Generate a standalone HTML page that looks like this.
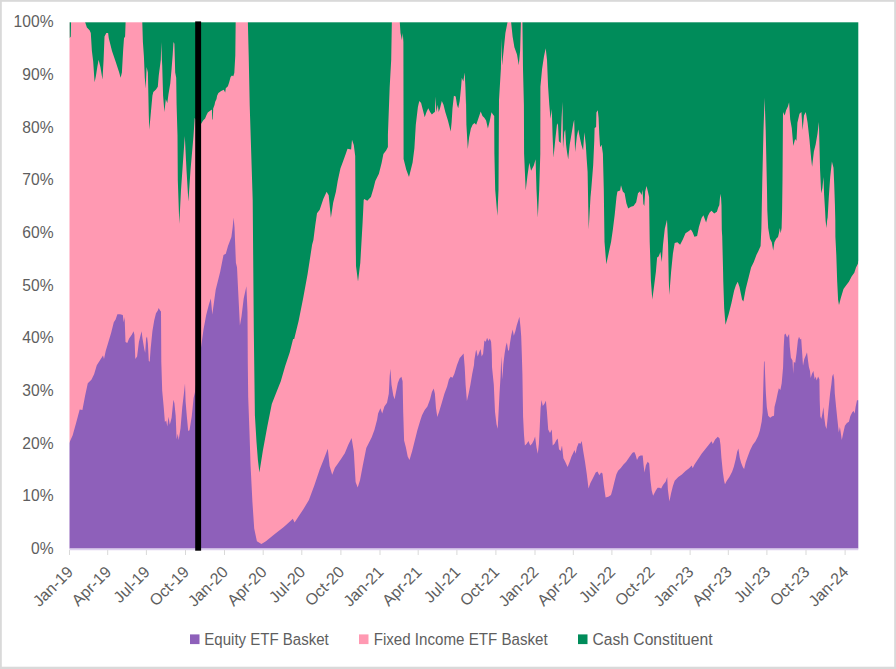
<!DOCTYPE html>
<html><head><meta charset="utf-8"><title>chart</title>
<style>
html,body{margin:0;padding:0;background:#fff;}
body{width:896px;height:669px;overflow:hidden;}
svg{display:block;}
text{font-family:"Liberation Sans",sans-serif;fill:#5e5e5e;}
.yl{font-size:15.6px;}
.xl{font-size:16px;}
.lg{font-size:15.8px;}
</style></head><body>
<svg width="896" height="669" viewBox="0 0 896 669">
<rect x="0" y="0" width="896" height="669" fill="#ffffff"/>
<rect x="0" y="0" width="896" height="1.8" fill="#d9d9d9"/><rect x="0" y="0" width="1.8" height="669" fill="#d9d9d9"/><rect x="894.2" y="0" width="1.8" height="669" fill="#d9d9d9"/><rect x="0" y="666.7" width="896" height="2.3" fill="#d9d9d9"/>
<rect x="66.5" y="19.3" width="794.8" height="532.3000000000001" fill="#008c5a"/>
<polygon points="66.5,551.6 66.5,19.3 69.3,19.3 69.5,38.3 70.8,36.5 71.1,19.3 84.2,19.3 86.9,27.6 89.6,30.2 90.8,32.9 91.9,50.9 93.2,61.6 94.6,82.3 95.9,76.0 97.3,67.0 98.6,59.8 100.4,67.0 102.5,79.6 103.6,59.8 104.5,36.5 106.3,32.9 108.1,32.9 108.8,38.3 112.0,50.9 115.6,61.6 119.2,72.4 120.6,77.8 121.9,72.4 123.1,50.9 124.0,38.3 125.1,36.5 125.7,19.3 142.2,19.3 142.9,41.9 143.9,56.3 144.8,77.8 145.7,88.5 146.6,67.0 147.9,72.4 148.8,115.5 149.3,129.8 150.6,115.5 152.4,95.7 153.3,92.1 156.0,89.4 157.8,86.8 158.7,76.0 160.1,65.2 160.8,59.8 161.3,41.9 161.9,59.8 162.2,65.2 163.1,95.7 164.4,111.9 165.8,99.3 167.3,102.9 168.5,93.9 170.3,83.2 171.6,68.8 172.7,54.5 173.5,41.9 174.4,43.7 175.2,72.4 176.2,77.8 176.6,104.7 177.5,135.0 177.8,180.0 179.3,223.7 181.0,190.0 184.8,135.9 186.5,170.0 188.4,201.5 190.5,170.0 193.5,136.0 194.7,118.0 198.0,122.0 201.0,123.9 203.1,120.6 205.1,118.5 206.4,115.2 207.8,112.5 209.8,111.1 211.5,109.8 211.9,109.8 212.3,119.5 212.8,119.5 213.2,108.5 214.5,105.1 215.2,101.7 216.5,99.0 217.1,95.8 218.4,93.1 221.1,91.0 223.8,89.7 225.2,92.4 225.8,88.3 227.9,86.3 229.2,82.3 230.6,76.9 231.9,75.6 233.3,76.2 234.3,72.9 235.3,55.4 235.7,19.3 247.8,19.3 248.7,55.4 249.7,105.0 252.7,200.0 253.8,330.0 254.9,415.2 256.5,442.1 257.9,460.0 259.4,472.4 262.8,451.1 267.3,426.4 271.8,404.0 276.2,392.8 280.7,381.6 285.2,365.9 289.7,352.4 293.1,339.0 294.2,339.0 298.6,321.1 303.1,298.6 307.6,274.0 312.1,244.8 313.4,240.0 315.2,225.8 317.0,213.3 319.7,209.7 323.3,198.9 326.6,191.8 328.7,195.3 330.9,217.8 333.2,202.5 335.9,191.8 337.7,181.0 340.4,168.4 343.1,161.3 345.7,154.1 347.5,148.7 351.1,149.6 352.0,139.7 353.8,145.1 355.2,155.9 355.7,240.0 356.0,266.0 358.0,281.5 360.3,262.8 362.6,222.4 363.7,200.0 364.2,198.9 367.3,200.7 370.9,197.1 373.5,188.2 375.3,181.0 378.9,173.8 381.6,163.1 383.4,154.1 386.1,150.5 387.9,146.9 387.9,135.0 389.7,86.8 391.2,59.8 391.9,19.3 399.6,19.3 400.5,32.9 401.9,40.1 402.8,32.9 403.4,41.9 403.6,158.9 406.3,169.7 409.0,176.9 412.6,162.5 414.4,148.2 415.8,124.8 417.9,106.9 419.3,101.1 421.1,102.9 422.9,110.1 424.7,117.2 426.5,111.9 428.3,108.3 430.1,111.9 431.9,114.5 433.7,112.8 434.9,111.9 435.5,96.6 436.4,111.9 437.8,104.7 438.7,111.9 440.0,108.3 441.8,101.1 443.5,104.7 445.3,111.9 448.0,120.8 450.7,131.6 451.6,122.6 452.5,108.3 453.9,95.7 455.7,96.6 457.0,104.7 458.2,108.3 459.7,101.1 461.1,86.8 461.8,77.8 463.3,81.4 464.7,72.4 465.4,86.8 466.0,104.7 466.0,97.9 466.4,124.8 467.8,149.1 469.1,137.4 470.9,128.4 472.6,124.8 474.4,123.0 476.2,124.8 478.0,119.5 480.7,111.4 482.5,115.9 484.3,117.7 486.1,120.4 487.9,128.4 489.7,121.3 491.5,112.3 493.3,115.0 494.2,115.9 494.4,153.8 495.2,189.7 497.4,215.7 498.5,189.7 499.0,100.0 500.9,68.8 501.4,38.3 502.1,65.2 503.6,50.9 505.4,32.9 508.1,19.3 510.8,19.3 512.6,36.5 514.4,47.3 517.0,54.5 518.8,65.2 520.1,50.9 521.0,19.3 522.4,19.3 523.0,68.8 523.9,104.7 524.1,153.8 525.7,190.6 527.5,175.3 529.3,162.8 531.1,170.8 533.8,165.5 535.6,159.2 536.5,189.7 537.8,217.5 539.2,189.7 540.3,153.8 540.4,86.8 542.1,68.8 544.0,56.3 545.7,48.2 547.0,59.8 548.1,86.8 549.3,104.7 550.5,118.8 551.8,109.0 552.6,135.9 553.5,157.4 555.3,139.5 557.1,123.3 558.0,125.1 558.9,141.3 560.7,143.1 561.6,117.9 562.5,101.8 563.0,148.4 564.3,132.3 565.2,129.6 566.1,144.8 567.0,152.0 568.2,159.2 569.7,144.8 571.5,134.1 573.3,123.3 574.2,119.7 575.1,152.0 576.9,135.9 578.3,129.6 579.5,135.9 581.4,144.8 583.1,150.2 584.4,132.3 585.8,144.8 586.7,159.2 587.6,171.8 588.5,220.0 588.7,229.2 590.5,196.9 591.2,189.7 593.2,165.0 594.3,140.0 594.6,128.1 596.1,127.0 596.4,112.4 597.8,110.2 598.6,118.0 599.3,134.8 600.1,147.2 601.6,144.8 602.9,153.8 603.8,189.7 604.5,241.8 606.3,264.2 608.4,254.3 611.1,241.8 612.9,229.2 614.7,214.8 616.5,196.9 617.4,191.5 620.1,190.6 621.0,185.2 622.8,191.5 624.6,193.3 626.4,203.2 628.2,208.6 630.9,206.8 633.5,205.9 636.2,202.3 638.0,193.3 639.8,191.5 641.6,195.1 642.5,189.7 643.4,204.1 644.3,205.9 645.2,191.5 646.5,186.1 647.9,191.5 649.1,196.9 649.7,241.8 650.1,253.8 650.9,280.7 652.3,299.6 654.1,286.1 655.9,271.8 657.1,257.4 658.6,256.5 660.4,252.0 661.8,261.9 663.0,244.8 664.8,228.7 667.0,219.7 668.1,244.8 668.8,280.7 669.3,295.1 671.1,271.8 672.9,253.8 674.7,243.1 677.4,242.2 680.1,244.8 682.8,239.5 685.5,233.2 688.2,231.4 690.9,229.6 692.6,232.3 694.4,236.8 697.1,235.9 698.9,226.9 701.6,217.9 703.4,215.2 706.1,222.4 707.9,216.1 709.7,212.6 711.5,210.8 714.2,213.4 716.9,211.7 718.3,207.2 719.3,205.2 719.9,198.4 720.6,193.7 721.1,198.4 721.5,205.2 721.8,230.0 722.2,235.9 723.1,271.8 723.3,281.8 724.2,308.6 725.5,324.8 728.7,314.0 731.4,303.3 734.1,290.7 735.9,285.3 737.7,281.8 739.5,287.1 742.1,299.7 743.4,301.5 745.7,288.9 748.4,278.2 751.1,267.4 753.8,262.0 756.5,254.8 758.3,251.3 760.6,245.9 761.4,227.9 762.3,180.0 763.5,130.0 764.6,97.7 765.7,130.0 767.0,190.0 767.3,210.0 768.2,227.9 770.0,238.7 771.8,242.3 773.2,250.4 774.4,242.3 776.2,238.7 778.0,236.9 778.9,233.3 779.8,227.9 780.7,233.3 781.6,227.9 782.1,210.0 782.5,180.0 783.0,112.0 784.7,115.6 786.1,110.2 787.9,106.6 789.1,102.2 790.2,119.2 791.8,128.2 793.3,146.1 795.1,138.9 796.5,140.7 797.4,122.8 799.5,113.8 801.4,112.0 802.6,130.0 804.0,115.6 805.8,112.0 807.6,122.8 809.4,138.9 811.2,158.7 812.1,166.7 813.9,151.5 815.7,144.3 817.5,133.5 818.9,121.9 820.1,170.4 821.2,193.3 822.4,187.9 823.5,177.1 824.1,194.6 825.1,210.8 825.6,220.8 826.5,227.9 827.4,217.2 827.5,220.0 828.8,197.3 830.2,177.1 831.9,161.6 833.5,167.7 834.2,183.8 834.9,204.0 835.3,220.0 835.4,236.9 836.3,254.8 837.2,281.8 838.1,299.7 839.0,305.1 840.8,297.9 843.5,288.9 846.2,285.3 848.9,281.8 851.6,276.4 854.3,272.8 856.0,267.4 857.9,263.8 858.6,261.1 861.3,261.1 861.3,551.6" fill="#ff99b2"/>
<polygon points="66.5,551.6 66.5,442.8 69.3,442.8 72.6,435.6 76.1,423.1 79.7,409.6 82.4,410.0 85.1,395.8 87.8,383.3 91.4,379.7 94.1,374.3 96.8,365.3 99.5,360.9 103.0,355.5 104.0,359.1 105.7,351.0 108.4,342.0 111.1,333.1 113.8,322.3 115.6,319.6 117.4,314.2 120.1,314.2 122.8,315.1 123.7,322.3 124.6,316.9 125.5,342.0 127.3,342.9 129.1,338.4 131.8,334.8 133.5,331.3 134.4,334.8 135.3,359.1 137.1,356.4 138.9,342.0 140.7,334.8 141.6,331.3 142.5,338.4 144.3,349.2 145.2,352.8 146.1,338.4 147.0,336.6 147.9,343.8 148.8,360.9 149.7,361.8 150.6,349.2 152.4,331.3 154.2,320.5 156.0,313.3 157.8,310.6 158.7,307.9 160.1,310.6 161.0,311.5 161.3,361.8 162.2,390.8 163.7,406.9 164.9,422.1 166.2,420.4 167.3,426.6 168.5,416.8 169.8,424.8 171.6,417.7 173.4,399.7 174.4,403.3 175.7,415.9 176.6,439.2 177.8,433.8 178.7,440.1 180.5,428.4 182.3,406.9 183.8,394.4 185.0,383.6 185.6,401.5 186.8,415.9 188.2,431.1 189.5,430.2 191.8,415.9 193.6,397.9 194.9,392.6 198.0,370.0 200.8,349.2 203.5,329.5 206.2,315.1 208.9,304.4 210.8,298.6 212.3,314.4 215.7,289.7 220.2,271.8 223.5,254.9 225.8,253.8 228.0,246.0 231.4,237.0 232.7,226.9 233.6,217.5 234.5,226.9 235.2,244.8 235.9,262.8 237.0,267.3 238.1,289.7 239.9,325.6 241.5,316.6 243.7,298.6 246.4,286.3 247.5,312.1 247.8,363.6 248.2,397.3 249.4,430.0 250.6,465.9 252.4,501.8 254.2,528.6 256.9,541.2 261.4,543.9 265.9,541.2 274.8,534.0 283.8,526.9 291.0,520.6 292.8,518.8 294.6,522.4 298.2,517.0 303.5,508.9 308.9,500.0 314.3,485.6 319.7,469.5 323.3,460.5 327.8,448.8 329.6,465.9 332.2,474.8 334.9,467.7 337.6,464.1 341.2,458.7 344.8,453.3 348.4,444.4 351.6,438.1 353.8,451.5 355.6,482.0 357.7,487.4 360.0,480.2 362.7,465.9 366.3,447.9 371.7,437.2 374.4,430.0 377.1,419.7 378.1,413.5 380.4,408.2 382.2,413.5 384.4,406.4 387.0,402.8 388.8,393.8 389.7,375.9 390.4,368.7 391.5,384.8 393.3,395.6 394.6,399.2 396.0,392.0 397.8,383.1 399.6,378.6 401.4,376.8 402.6,381.3 403.2,411.8 404.1,440.4 405.9,447.6 407.7,456.6 409.5,460.0 412.1,451.2 414.8,440.4 417.5,429.7 420.2,420.7 422.0,415.3 424.7,410.0 427.4,406.4 430.1,399.2 431.9,392.0 433.7,388.4 434.9,393.8 436.0,408.2 437.3,417.1 439.1,411.8 441.8,402.8 444.4,393.8 447.1,386.6 448.9,379.5 450.7,376.8 452.5,377.7 454.3,374.1 457.0,365.1 459.7,357.9 461.5,356.1 463.6,353.4 464.7,366.9 465.6,384.8 466.9,401.0 468.6,393.8 470.4,384.8 472.2,374.1 474.0,365.1 474.3,360.6 475.7,351.8 476.3,349.8 477.7,356.5 479.7,351.1 480.6,349.1 481.7,356.5 483.1,353.8 484.4,340.4 485.8,341.7 487.1,337.7 488.4,341.1 489.8,338.4 491.1,341.7 491.8,353.8 492.0,366.9 493.8,384.8 495.0,411.8 496.5,424.3 497.7,428.8 498.6,411.8 499.5,393.8 500.6,375.9 501.3,356.1 502.4,379.5 503.3,364.6 504.6,353.8 505.9,345.8 506.9,342.4 508.0,349.8 508.9,351.1 510.0,343.1 511.3,335.0 512.7,329.6 513.8,335.7 515.4,331.0 516.7,325.6 518.1,320.9 519.4,316.8 520.5,326.9 521.2,336.3 521.8,353.8 522.4,374.0 523.1,416.9 524.0,434.8 524.9,445.6 526.7,443.8 528.5,441.1 530.2,445.6 532.0,443.8 533.8,440.2 535.1,436.6 536.5,447.4 537.8,453.7 538.9,443.8 539.8,425.9 540.6,407.9 541.5,399.9 542.8,406.1 544.6,403.4 545.9,400.8 546.9,411.5 548.2,429.5 550.0,433.1 551.8,429.5 552.7,445.6 554.5,443.8 556.3,440.2 557.7,438.4 559.0,449.2 560.7,451.0 562.0,445.6 563.4,458.2 565.2,461.8 567.6,467.1 569.7,461.8 571.5,456.4 573.3,452.8 574.5,450.1 575.6,453.7 576.9,447.4 578.7,442.9 580.5,443.8 581.7,441.1 583.2,451.0 585.0,461.8 586.8,474.3 588.5,488.6 590.3,483.3 593.0,477.9 595.7,472.5 597.5,471.6 599.3,475.2 601.1,472.5 602.5,473.4 603.8,485.1 605.6,497.6 608.3,496.7 611.0,494.9 612.8,488.6 614.5,481.5 616.4,474.3 618.1,470.7 620.8,468.0 623.5,464.4 626.2,461.8 629.8,456.4 632.5,452.8 634.3,451.9 635.5,454.6 637.0,460.0 638.8,456.4 640.6,455.5 642.7,455.5 643.6,465.3 644.5,472.5 645.9,465.3 647.7,461.8 649.2,463.5 650.4,479.7 651.7,490.4 653.1,495.8 655.8,490.4 657.6,487.8 659.4,487.8 661.2,488.6 663.0,485.1 665.7,481.5 667.2,477.1 667.9,489.7 669.4,501.4 671.1,493.3 672.9,486.1 674.7,480.7 678.3,477.1 681.9,474.4 685.5,470.9 689.1,468.2 691.8,465.5 692.7,468.2 694.5,464.6 698.0,459.2 701.6,453.8 705.2,449.3 708.8,444.8 711.5,441.3 712.8,443.9 715.1,439.5 717.8,436.8 719.6,438.6 720.5,444.8 721.4,457.4 722.8,471.8 724.1,480.7 725.0,484.3 726.8,480.7 729.4,477.1 732.1,471.8 733.9,466.4 735.7,459.2 737.1,452.0 738.4,448.4 739.7,457.4 741.1,462.8 742.9,467.3 744.1,469.1 745.6,462.8 747.4,457.4 750.1,450.2 752.8,444.8 755.5,441.3 758.1,435.9 759.9,430.5 761.7,421.5 762.6,412.6 763.3,387.3 764.0,361.4 764.6,361.4 765.6,387.3 765.9,393.5 766.8,406.9 768.2,415.7 770.2,417.7 772.2,416.3 774.0,415.7 774.5,406.9 776.2,400.2 777.6,393.5 778.9,388.1 779.0,388.6 780.4,390.0 781.7,383.3 783.1,367.1 783.7,346.9 784.4,334.8 785.5,333.5 787.1,337.5 789.1,334.1 789.8,346.9 790.9,357.7 792.5,360.4 793.2,373.8 793.8,361.7 795.2,363.1 796.5,353.6 797.9,340.2 799.0,336.8 800.3,339.5 801.2,338.8 802.2,353.6 803.0,365.8 804.3,359.0 806.0,355.0 807.0,352.3 808.0,360.4 808.9,367.1 810.0,371.1 810.7,377.9 812.0,373.8 813.4,371.1 814.7,379.2 815.6,376.5 816.7,380.6 818.1,376.5 819.4,379.2 819.7,400.2 820.3,416.3 821.3,419.0 822.4,413.6 823.4,406.9 824.3,417.7 825.4,425.8 826.5,429.1 827.4,420.4 828.7,406.9 830.1,393.5 831.4,384.0 832.2,376.5 833.3,373.8 834.2,379.2 834.8,393.5 836.1,406.9 837.5,420.4 838.8,432.5 839.9,427.1 840.9,433.8 841.8,439.9 843.1,433.8 844.9,425.8 846.9,423.1 848.9,421.7 850.3,416.3 852.3,412.3 853.6,411.0 854.7,413.6 855.6,406.9 857.0,400.2 858.1,400.2 861.3,400.2 861.3,551.6" fill="#8e60ba"/>
<rect x="64.5" y="17.3" width="5" height="536.3000000000001" fill="#fff"/>
<rect x="858.3" y="17.3" width="5" height="536.3000000000001" fill="#fff"/>
<rect x="64.5" y="17.3" width="798.8" height="5" fill="#fff"/>
<rect x="64.5" y="548.6" width="798.8" height="5" fill="#fff"/>
<line x1="69.5" y1="549.4" x2="858.3" y2="549.4" stroke="#ddd0ee" stroke-width="1.6"/>
<line x1="69.5" y1="550" x2="69.5" y2="555" stroke="#d9d9d9" stroke-width="1"/><line x1="107.7" y1="550" x2="107.7" y2="555" stroke="#d9d9d9" stroke-width="1"/><line x1="146.4" y1="550" x2="146.4" y2="555" stroke="#d9d9d9" stroke-width="1"/><line x1="185.5" y1="550" x2="185.5" y2="555" stroke="#d9d9d9" stroke-width="1"/><line x1="224.5" y1="550" x2="224.5" y2="555" stroke="#d9d9d9" stroke-width="1"/><line x1="263.2" y1="550" x2="263.2" y2="555" stroke="#d9d9d9" stroke-width="1"/><line x1="301.8" y1="550" x2="301.8" y2="555" stroke="#d9d9d9" stroke-width="1"/><line x1="340.9" y1="550" x2="340.9" y2="555" stroke="#d9d9d9" stroke-width="1"/><line x1="380.0" y1="550" x2="380.0" y2="555" stroke="#d9d9d9" stroke-width="1"/><line x1="418.2" y1="550" x2="418.2" y2="555" stroke="#d9d9d9" stroke-width="1"/><line x1="456.9" y1="550" x2="456.9" y2="555" stroke="#d9d9d9" stroke-width="1"/><line x1="495.9" y1="550" x2="495.9" y2="555" stroke="#d9d9d9" stroke-width="1"/><line x1="535.0" y1="550" x2="535.0" y2="555" stroke="#d9d9d9" stroke-width="1"/><line x1="573.3" y1="550" x2="573.3" y2="555" stroke="#d9d9d9" stroke-width="1"/><line x1="611.9" y1="550" x2="611.9" y2="555" stroke="#d9d9d9" stroke-width="1"/><line x1="651.0" y1="550" x2="651.0" y2="555" stroke="#d9d9d9" stroke-width="1"/><line x1="690.1" y1="550" x2="690.1" y2="555" stroke="#d9d9d9" stroke-width="1"/><line x1="728.3" y1="550" x2="728.3" y2="555" stroke="#d9d9d9" stroke-width="1"/><line x1="766.9" y1="550" x2="766.9" y2="555" stroke="#d9d9d9" stroke-width="1"/><line x1="806.0" y1="550" x2="806.0" y2="555" stroke="#d9d9d9" stroke-width="1"/><line x1="845.1" y1="550" x2="845.1" y2="555" stroke="#d9d9d9" stroke-width="1"/>
<rect x="195.2" y="21.4" width="5.9" height="529.3" fill="#000"/>
<text x="53.5" y="27.1" text-anchor="end" class="yl">100%</text><text x="53.5" y="79.8" text-anchor="end" class="yl">90%</text><text x="53.5" y="132.5" text-anchor="end" class="yl">80%</text><text x="53.5" y="185.1" text-anchor="end" class="yl">70%</text><text x="53.5" y="237.8" text-anchor="end" class="yl">60%</text><text x="53.5" y="290.5" text-anchor="end" class="yl">50%</text><text x="53.5" y="343.2" text-anchor="end" class="yl">40%</text><text x="53.5" y="395.9" text-anchor="end" class="yl">30%</text><text x="53.5" y="448.5" text-anchor="end" class="yl">20%</text><text x="53.5" y="501.2" text-anchor="end" class="yl">10%</text><text x="53.5" y="553.9" text-anchor="end" class="yl">0%</text>
<text transform="translate(74.0,573) rotate(-45)" text-anchor="end" class="xl">Jan-19</text><text transform="translate(112.2,573) rotate(-45)" text-anchor="end" class="xl">Apr-19</text><text transform="translate(150.9,573) rotate(-45)" text-anchor="end" class="xl">Jul-19</text><text transform="translate(190.0,573) rotate(-45)" text-anchor="end" class="xl">Oct-19</text><text transform="translate(229.0,573) rotate(-45)" text-anchor="end" class="xl">Jan-20</text><text transform="translate(267.7,573) rotate(-45)" text-anchor="end" class="xl">Apr-20</text><text transform="translate(306.3,573) rotate(-45)" text-anchor="end" class="xl">Jul-20</text><text transform="translate(345.4,573) rotate(-45)" text-anchor="end" class="xl">Oct-20</text><text transform="translate(384.5,573) rotate(-45)" text-anchor="end" class="xl">Jan-21</text><text transform="translate(422.7,573) rotate(-45)" text-anchor="end" class="xl">Apr-21</text><text transform="translate(461.4,573) rotate(-45)" text-anchor="end" class="xl">Jul-21</text><text transform="translate(500.4,573) rotate(-45)" text-anchor="end" class="xl">Oct-21</text><text transform="translate(539.5,573) rotate(-45)" text-anchor="end" class="xl">Jan-22</text><text transform="translate(577.8,573) rotate(-45)" text-anchor="end" class="xl">Apr-22</text><text transform="translate(616.4,573) rotate(-45)" text-anchor="end" class="xl">Jul-22</text><text transform="translate(655.5,573) rotate(-45)" text-anchor="end" class="xl">Oct-22</text><text transform="translate(694.6,573) rotate(-45)" text-anchor="end" class="xl">Jan-23</text><text transform="translate(732.8,573) rotate(-45)" text-anchor="end" class="xl">Apr-23</text><text transform="translate(771.4,573) rotate(-45)" text-anchor="end" class="xl">Jul-23</text><text transform="translate(810.5,573) rotate(-45)" text-anchor="end" class="xl">Oct-23</text><text transform="translate(849.6,573) rotate(-45)" text-anchor="end" class="xl">Jan-24</text>
<rect x="190" y="634.4" width="9.5" height="9.7" fill="#8e60ba"/>
<text x="204.3" y="644.6" class="lg" textLength="124.5" lengthAdjust="spacingAndGlyphs">Equity ETF Basket</text>
<rect x="359" y="634.4" width="9.5" height="9.7" fill="#ff99b2"/>
<text x="373.7" y="644.6" class="lg" textLength="174" lengthAdjust="spacingAndGlyphs">Fixed Income ETF Basket</text>
<rect x="578" y="634.4" width="9.5" height="9.7" fill="#008c5a"/>
<text x="592.5" y="644.6" class="lg" textLength="120" lengthAdjust="spacingAndGlyphs">Cash Constituent</text>
</svg>
</body></html>
